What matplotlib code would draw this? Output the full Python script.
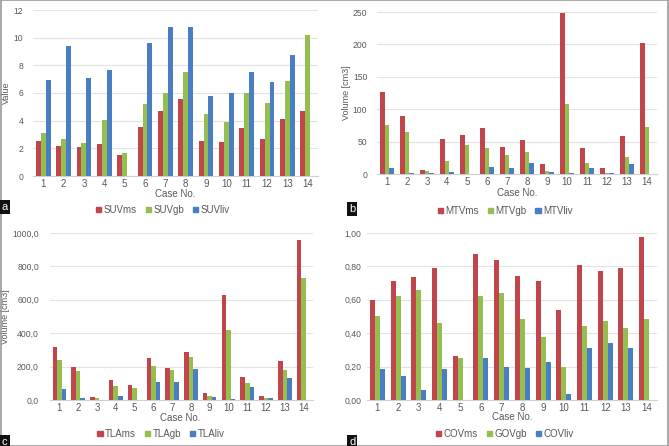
import matplotlib.pyplot as plt
from matplotlib.patches import Patch, Rectangle
from matplotlib.ticker import FuncFormatter
import numpy as np

plt.rcParams['font.family'] = ['Liberation Sans', 'DejaVu Sans']

cases = [str(i) for i in range(1, 15)]

# SUV
suv_ms = [2.5, 2.2, 2.1, 2.3, 1.52, 3.57, 4.67, 5.54, 2.53, 2.48, 3.49, 2.65, 4.12, 4.67]
suv_gb = [3.13, 2.65, 2.4, 4.05, 1.64, 5.23, 6.02, 7.52, 4.46, 3.93, 6.02, 5.25, 6.84, 10.19]
suv_liv = [6.94, 9.37, 7.08, 7.66, 0, 9.61, 10.8, 10.75, 5.78, 5.98, 7.52, 6.77, 8.72, 0]

# MTV
mtv_ms = [126.8, 89.3, 6.2, 53.4, 60, 71.4, 41, 52.4, 15.9, 249, 40.6, 9.2, 58, 202.3]
mtv_gb = [75.5, 64.2, 5.1, 20.5, 45.2, 40, 29.8, 34.4, 5.1, 107.3, 17.5, 2, 26.7, 71.9]
mtv_liv = [8.7, 1, 1, 2.6, 0, 10.3, 9.2, 17.5, 2.6, 1, 9.2, 1.5, 14.9, 0]

# TLA
tla_ms = [318, 198, 16, 122, 90, 252, 192, 286, 40, 628, 138, 24, 232, 956]
tla_gb = [238, 174, 12, 82, 72, 206, 178, 260, 22, 422, 102, 14, 178, 732]
tla_liv = [66, 10, 0, 22, 0, 108, 110, 186, 16, 6, 80, 12, 130, 0]

# COV
cov_ms = [0.60, 0.712, 0.736, 0.788, 0.264, 0.872, 0.838, 0.74, 0.712, 0.54, 0.806, 0.77, 0.792, 0.978]
cov_gb = [0.502, 0.624, 0.66, 0.464, 0.252, 0.624, 0.642, 0.484, 0.378, 0.198, 0.444, 0.476, 0.434, 0.486]
cov_liv = [0.186, 0.146, 0.06, 0.188, 0, 0.252, 0.2, 0.194, 0.228, 0.036, 0.314, 0.34, 0.312, 0]

colors = ['#c0464b', '#94bf50', '#4a7ec4']
txt = '#595959'
fs = 6.5
W, H = 669, 446

fig = plt.figure(figsize=(6.69, 4.46), dpi=100)


def px_axes(left, top, right, bottom):
    # pixel box -> figure fraction
    return fig.add_axes([left / W, 1 - bottom / H, (right - left) / W, (bottom - top) / H])


def draw_panel(box, series, labels, ymax, step, fmt, ylabel, ylab_x, ypad, xlab_pos, leg_pos, letter, letter_pos):
    ax = px_axes(*box)
    x = np.arange(len(cases))
    w = 0.24
    for k, (vals, lab) in enumerate(zip(series, labels)):
        ax.bar(x + (k - 1) * w, vals, width=w, color=colors[k], label=lab, zorder=3)
    ax.set_xlim(-0.5, len(cases) - 0.5)
    ax.set_ylim(0, ymax)
    ax.set_yticks(np.arange(0, ymax + step / 2, step))
    ax.yaxis.set_major_formatter(FuncFormatter(fmt))
    ax.set_xticks(x)
    ax.set_xticklabels(cases)
    ax.grid(axis='y', color='#e3e3e3', linewidth=0.8, zorder=0)
    for s in ['top', 'right', 'left']:
        ax.spines[s].set_visible(False)
    ax.spines['bottom'].set_color('#d0d0d0')
    ax.tick_params(length=0, labelcolor=txt)
    ax.tick_params(axis='x', pad=2.5, labelsize=fs + 0.5)
    ax.tick_params(axis='y', pad=ypad, labelsize=6.2)
    if ylabel:
        ax.set_ylabel(ylabel, fontsize=fs, color=txt)
        ax.yaxis.set_label_coords((ylab_x - box[0]) / (box[2] - box[0]), 0.5)
    fig.text(xlab_pos[0] / W, 1 - xlab_pos[1] / H, 'Case No.', fontsize=fs + 0.5, color=txt,
             ha='center', va='center')
    handles = [Patch(color=c, label=l) for c, l in zip(colors, labels)]
    fig.legend(handles=handles, loc='center', bbox_to_anchor=(leg_pos[0] / W, 1 - leg_pos[1] / H),
               ncol=3, frameon=False, fontsize=fs + 0.5, labelcolor=txt, handlelength=0.55,
               handleheight=0.55, handletextpad=0.25, columnspacing=0.9)
    fig.text(letter_pos[0] / W, 1 - letter_pos[1] / H, letter, fontsize=8, color='white',
             ha='left', va='center',
             bbox=dict(boxstyle='square,pad=0.2', facecolor='#111111', edgecolor='none'))


draw_panel((33, 10, 318, 176), [suv_ms, suv_gb, suv_liv], ['SUVms', 'SUVgb', 'SUVliv'],
           12, 2, lambda v, p: '%d' % v, 'Value', 11, 7, (175, 194), (163, 210), 'a', (2, 207))
draw_panel((377, 12, 657, 174), [mtv_ms, mtv_gb, mtv_liv], ['MTVms', 'MTVgb', 'MTVliv'],
           250, 50, lambda v, p: '%d' % v, 'Volume [cm3]', 351, 7, (517, 193), (505, 211), 'b', (349, 209))
draw_panel((50, 233, 313, 400), [tla_ms, tla_gb, tla_liv], ['TLAms', 'TLAgb', 'TLAliv'],
           1000, 200, lambda v, p: ('%.1f' % v).replace('.', ','), 'Volume [cm3]', 10, 8,
           (180, 418), (161, 434), 'c', (2, 442))
draw_panel((367, 233, 657, 400), [cov_ms, cov_gb, cov_liv], ['COVms', 'GOVgb', 'COVliv'],
           1.0, 0.2, lambda v, p: ('%.2f' % v).replace('.', ','), None, 0, 4,
           (512, 417), (505, 434), 'd', (349, 442))

# thin outer frame
fig.patches.append(Rectangle((0.001, 0.001), 0.998, 0.998, transform=fig.transFigure,
                             fill=False, edgecolor='#9a9a9a', linewidth=1.2))

fig.savefig('out.png', dpi=100)
